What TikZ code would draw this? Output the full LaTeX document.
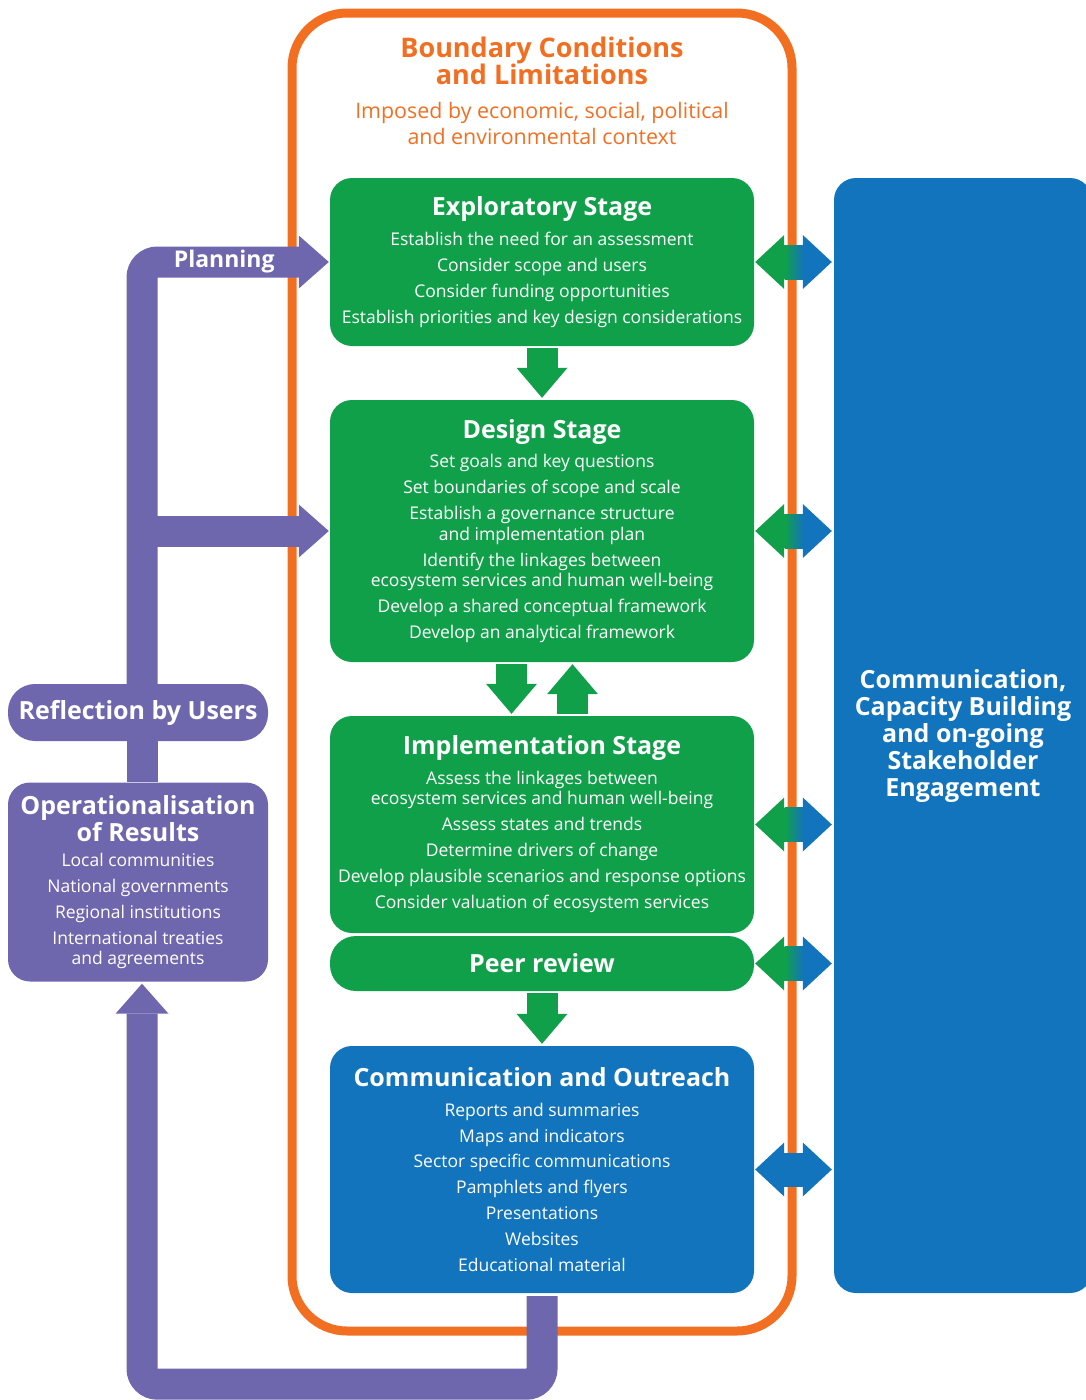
\documentclass[tikz,border=0pt]{standalone}
\usepackage{fontspec}
\setmainfont{Open Sans}
\usetikzlibrary{arrows.meta, calc, positioning}
\definecolor{mainGreen}{RGB}{17,160,74}
\definecolor{mainBlue}{RGB}{18,116,188}
\definecolor{mainOrange}{RGB}{242,111,34}
\definecolor{mainPurple}{RGB}{110,103,174}
\newcommand{\headFont}{\fontsize{25}{27}\selectfont\bfseries}
\newcommand{\bodyFont}{\fontsize{17.5}{20.5}\selectfont}
\tikzset{
  stageBox/.style={fill=mainGreen, rounded corners=22pt, minimum width=424pt, inner sep=0pt, text=white, align=center, font=\bodyFont},
  userBox/.style={fill=mainPurple, minimum width=260pt, inner sep=0pt, text=white, align=center},
  purpleBand/.style={draw=mainPurple, line width=31pt, rounded corners=15.5pt, -{Triangle[width=53pt, length=30pt, line width=0pt]}},
  stageArrow/.style={draw=mainGreen, line width=31pt, -{Triangle[width=51pt, length=30pt, line width=0pt]}},
  linkBand/.style={line width=34pt, -{Triangle[width=54pt, length=29pt, line width=0pt]}}
}

\begin{document}
\begin{tikzpicture}[x=1pt, y=-1pt]
    \useasboundingbox (0,0) rectangle (1086,1400);

    \node[draw=mainOrange, line width=9pt, rounded corners=55pt, minimum width=500pt, minimum height=1318pt] (bounds) at (542,672) {};
    \node[text=mainOrange, align=center, font=\fontsize{27}{27}\selectfont\bfseries] (boundsTitle) at (542,61) {Boundary Conditions\\and Limitations};
    \node[text=mainOrange, align=center, font=\fontsize{21.4}{26}\selectfont] (boundsSub) at (542,123) {Imposed by economic, social, political\\and environmental context};

    \node[stageBox, minimum height=168pt] (expl) at (542,262) {{\headFont Exploratory Stage}\\[9pt]
        Establish the need for an assessment\\[5.5pt] Consider scope and users\\[5.5pt]
        Consider funding opportunities\\[5.5pt] Establish priorities and key design considerations};
    \node[stageBox, minimum height=262pt] (design) at (542,531) {{\headFont Design Stage}\\[9pt]
        Set goals and key questions\\[5.5pt] Set boundaries of scope and scale\\[5.5pt]
        Establish a governance structure\\ and implementation plan\\[5.5pt]
        Identify the linkages between\\ ecosystem services and human well-being\\[5.5pt]
        Develop a shared conceptual framework\\[5.5pt] Develop an analytical framework};
    \node[stageBox, minimum height=217pt] (impl) at (542,824.5) {{\headFont Implementation Stage}\\[9pt]
        Assess the linkages between\\ ecosystem services and human well-being\\[5.5pt]
        Assess states and trends\\[5.5pt] Determine drivers of change\\[5.5pt]
        Develop plausible scenarios and response options\\[5.5pt] Consider valuation of ecosystem services};
    \node[stageBox, rounded corners=26pt, minimum height=55pt, font=\headFont] (peer) at (542,963.5) {Peer review};
    \node[stageBox, fill=mainBlue, minimum height=247pt] (comm) at (542,1169.5) {{\headFont Communication and Outreach}\\[9pt]
        Reports and summaries\\[5.3pt] Maps and indicators\\[5.3pt] Sector specific communications\\[5.3pt]
        Pamphlets and flyers\\[5.3pt] Presentations\\[5.3pt] Websites\\[5.3pt] Educational material};

    \node[fill=mainBlue, rounded corners=22pt, minimum width=258pt, minimum height=1115pt, text=white, align=center, font=\headFont] (engage) at (963,735.5)
        {Communication,\\Capacity Building\\and on-going\\Stakeholder\\Engagement};

    \node[userBox, rounded corners=27pt, minimum height=57pt, font=\headFont] (refl) at (138,712.5) {Reflection by Users};
    \node[userBox, rounded corners=22pt, minimum height=199pt, font=\bodyFont] (oper) at (138,882) {{\headFont Operationalisation}\\[1pt]
        {\headFont of Results}\\[4.5pt] Local communities\\[5.5pt] National governments\\[5.5pt]
        Regional institutions\\[5.5pt] International treaties\\ and agreements};

    \draw[stageArrow] ([yshift=-2pt]expl.south) -- ([yshift=2pt]design.north);
    \draw[stageArrow] ([xshift=-30.5pt, yshift=-2pt]design.south) -- ([xshift=-30.5pt, yshift=2pt]impl.north);
    \draw[stageArrow] ([xshift=30.5pt, yshift=2pt]impl.north) -- ([xshift=30.5pt, yshift=-2pt]design.south);
    \draw[stageArrow] ([yshift=-2pt]peer.south) -- ([yshift=2pt]comm.north);

    \foreach \stage in {expl, design, impl, peer}{
        \coordinate (mid) at ($(\stage.east)!0.5!(\stage.east -| engage.west)$);
        \draw[linkBand, mainGreen] (mid) -- ([xshift=1pt]\stage.east);
        \draw[linkBand, mainBlue] (mid) -- ([xshift=-2pt]\stage.east -| engage.west);
        \shade[left color=mainGreen, right color=mainBlue] ($(mid)+(-9.5,-17)$) rectangle ($(mid)+(9.5,17)$);
    }
    \draw[linkBand, mainBlue, {Triangle[width=54pt, length=29pt, line width=0pt]}-{Triangle[width=54pt, length=29pt, line width=0pt]}]
        ([xshift=1pt]comm.east) -- ([xshift=-2pt]comm.east -| engage.west);

    \coordinate (spine) at ([xshift=4pt]refl.north);
    \draw[purpleBand] (spine) |- ([xshift=-1pt]expl.west)
        node[pos=0.72, text=white, font=\fontsize{23}{24}\selectfont\bfseries] {Planning};
    \draw[purpleBand] ([xshift=-15pt]spine |- design.west) -- ([xshift=-1pt]design.west);
    \draw[mainPurple, line width=31pt] ([xshift=4pt]refl.south) -- ([xshift=4pt]oper.north);
    \draw[purpleBand] ([yshift=-3pt]comm.south) -- ++(0,88) -| ([xshift=4pt, yshift=-2pt]oper.south);
\end{tikzpicture}
\end{document}
